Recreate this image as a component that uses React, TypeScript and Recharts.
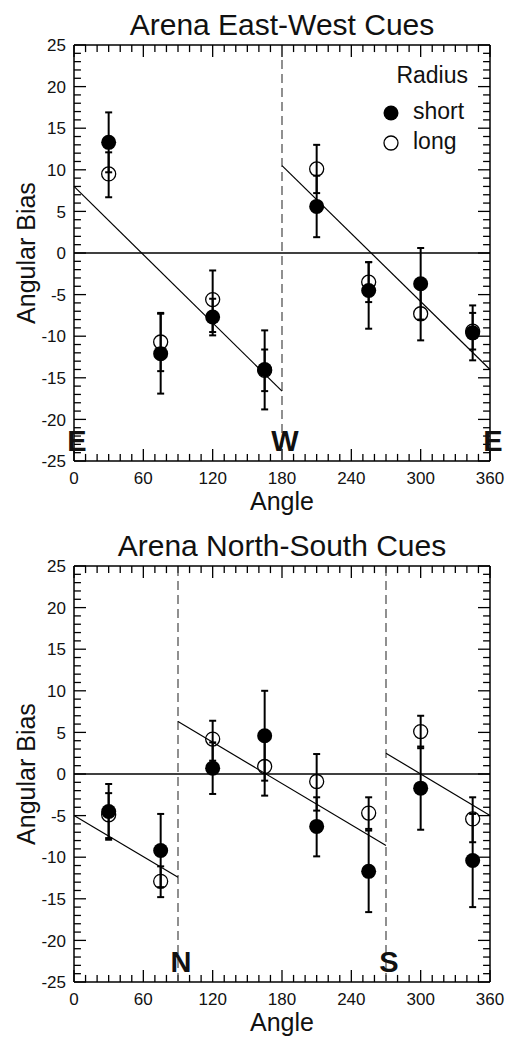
import React from "react"
import {
  ComposedChart,
  Scatter,
  XAxis,
  YAxis,
  ErrorBar,
  ReferenceLine,
  Legend,
  Label,
} from "recharts"

const FONT = '"Liberation Sans", Arial, Helvetica, sans-serif'

// angles where the animals were tested
const angles = [30, 75, 120, 165, 210, 255, 300, 345]

// East-West cues panel
const ewShortBias = [13.3, -12.1, -7.7, -14.0, 5.6, -4.5, -3.7, -9.6]
const ewShortErr = [[3.6, 3.6], [4.8, 4.8], [2.2, 2.2], [4.8, 4.7], [3.7, 3.7], [4.6, 3.4], [4.3, 4.3], [3.3, 3.3]]
const ewLongBias = [9.5, -10.7, -5.6, -14.1, 10.1, -3.5, -7.3, -9.4]
const ewLongErr = [[2.8, 2.6], [3.5, 3.5], [3.9, 3.5], [2.5, 2.5], [2.9, 2.9], [2.4, 2.4], [3.2, 3.2], [2.2, 2.2]]
const ewFitStarts = [{ x: 0, y: 8.0 }, { x: 180, y: 10.5 }]
const ewFitEnds = [{ x: 180, y: -16.6 }, { x: 360, y: -14.0 }]
const ewDividers = [180]
const ewCueAngles = [0, 180, 360]
const ewCueLabels = ["E", "W", "E"]

// North-South cues panel
const nsShortBias = [-4.5, -9.2, 0.7, 4.6, -6.3, -11.7, -1.7, -10.4]
const nsShortErr = [[3.4, 3.3], [4.4, 4.4], [3.1, 3.1], [5.4, 5.4], [3.6, 3.5], [4.9, 4.9], [5.0, 5.0], [5.6, 5.6]]
const nsLongBias = [-4.9, -12.9, 4.2, 0.9, -0.9, -4.7, 5.1, -5.4]
const nsLongErr = [[2.8, 2.6], [1.9, 1.8], [2.6, 2.2], [3.5, 3.5], [3.5, 3.3], [1.9, 1.9], [2.0, 1.9], [2.8, 2.6]]
const nsFitStarts = [{ x: 0, y: -5.0 }, { x: 90, y: 6.3 }, { x: 270, y: 2.5 }]
const nsFitEnds = [{ x: 90, y: -12.4 }, { x: 270, y: -8.6 }, { x: 360, y: -5.0 }]
const nsDividers = [90, 270]
const nsCueAngles = [90, 270]
const nsCueLabels = ["N", "S"]

// axis ticks
const X_MIN = 0
const X_MAX = 360
const Y_MIN = -25
const Y_MAX = 25
const xMajorTicks = [0, 60, 120, 180, 240, 300, 360]
const yMajorTicks = [-25, -20, -15, -10, -5, 0, 5, 10, 15, 20, 25]
const xTicks: number[] = []
for (let v = X_MIN; v <= X_MAX; v += 10) xTicks.push(v)
const yTicks: number[] = []
for (let v = Y_MIN; v <= Y_MAX; v += 1) yTicks.push(v)

// inward tick lengths, in data units (x ticks measured in bias, y ticks in degrees)
const X_TICK_MAJOR = 1.45
const X_TICK_MINOR = 0.85
const Y_TICK_MAJOR = 10.4
const Y_TICK_MINOR = 6.0
const TICK_STROKE = 1.3

const BottomLabel = (props: any) => {
  const { x, y, payload } = props
  return (
    <text x={x} y={y + 23} textAnchor="middle" fontSize={17} fontFamily={FONT} fill="#111">
      {payload.value}
    </text>
  )
}

const LeftLabel = (props: any) => {
  const { x, y, payload } = props
  return (
    <text x={x - 8} y={y} dy="0.36em" textAnchor="end" fontSize={17} fontFamily={FONT} fill="#111">
      {payload.value}
    </text>
  )
}

const FilledDot = (props: any) => <circle cx={props.cx} cy={props.cy} r={7.5} fill="#000" />
const OpenDot = (props: any) => (
  <circle cx={props.cx} cy={props.cy} r={7} fill="none" stroke="#000" strokeWidth={1.3} />
)
const CueLetter = (props: any) => (
  <text
    x={props.cx + 3}
    y={props.cy - 10}
    textAnchor="middle"
    fontSize={29}
    fontWeight="bold"
    fontFamily={FONT}
    fill="#111"
  >
    {props.payload.label}
  </text>
)

const RadiusLegend = () => (
  <svg width={110} height={100} style={{ display: "block" }}>
    <text x={88} y={23} textAnchor="end" fontSize={23} fontFamily={FONT} fill="#111">Radius</text>
    <circle cx={11} cy={53} r={7.5} fill="#000" />
    <text x={33} y={59} fontSize={23} fontFamily={FONT} fill="#111">short</text>
    <circle cx={11} cy={83} r={7} fill="none" stroke="#000" strokeWidth={1.3} />
    <text x={33} y={89} fontSize={23} fontFamily={FONT} fill="#111">long</text>
  </svg>
)

const toPoints = (bias: number[], err: number[][]) =>
  angles.map((a, i) => ({ angle: a, bias: bias[i], err: err[i] }))

// box frame + inward minor/major ticks on all four sides
function frameLines() {
  const out: React.ReactNode[] = []
  const seg = (key: string, a: { x: number; y: number }, b: { x: number; y: number }) =>
    out.push(<ReferenceLine key={key} segment={[a, b]} stroke="#000" strokeWidth={TICK_STROKE} />)
  xTicks.forEach((v) => {
    const len = xMajorTicks.includes(v) ? X_TICK_MAJOR : X_TICK_MINOR
    seg(`xb-${v}`, { x: v, y: Y_MIN }, { x: v, y: Y_MIN + len })
    seg(`xt-${v}`, { x: v, y: Y_MAX }, { x: v, y: Y_MAX - len })
  })
  yTicks.forEach((v) => {
    const len = yMajorTicks.includes(v) ? Y_TICK_MAJOR : Y_TICK_MINOR
    seg(`yl-${v}`, { x: X_MIN, y: v }, { x: X_MIN + len, y: v })
    seg(`yr-${v}`, { x: X_MAX, y: v }, { x: X_MAX - len, y: v })
  })
  out.push(<ReferenceLine key="fl" x={X_MIN} stroke="#000" strokeWidth={1.5} />)
  out.push(<ReferenceLine key="fr" x={X_MAX} stroke="#000" strokeWidth={1.5} />)
  out.push(<ReferenceLine key="fb" y={Y_MIN} stroke="#000" strokeWidth={1.5} />)
  out.push(<ReferenceLine key="ft" y={Y_MAX} stroke="#000" strokeWidth={1.5} />)
  return out
}

interface PanelProps {
  title: string
  shortBias: number[]
  shortErr: number[][]
  longBias: number[]
  longErr: number[][]
  fitStarts: Array<{ x: number; y: number }>
  fitEnds: Array<{ x: number; y: number }>
  dividers: number[]
  cueAngles: number[]
  cueLabels: string[]
  showLegend?: boolean
}

function Panel(p: PanelProps) {
  const shortData = toPoints(p.shortBias, p.shortErr)
  const longData = toPoints(p.longBias, p.longErr)
  const cueData = p.cueAngles.map((a, i) => ({ angle: a, bias: Y_MIN, label: p.cueLabels[i] }))

  return (
    <div style={{ position: "relative", width: 508, height: 520 }}>
      <div
        style={{
          position: "absolute",
          left: 74,
          top: 10,
          width: 416,
          textAlign: "center",
          fontFamily: FONT,
          fontSize: 30,
          lineHeight: "30px",
          color: "#111",
          whiteSpace: "nowrap",
        }}
      >
        {p.title}
      </div>
      <ComposedChart width={508} height={520} margin={{ top: 45, right: 18, bottom: 0, left: 0 }}>
        <XAxis
          dataKey="angle"
          type="number"
          domain={[X_MIN, X_MAX]}
          ticks={xMajorTicks}
          interval={0}
          tickSize={0}
          tickMargin={0}
          tickLine={false}
          axisLine={false}
          tick={BottomLabel}
          height={59}
        >
          <Label
            content={(lp: any) => (
              <text
                x={lp.viewBox.x + lp.viewBox.width / 2}
                y={lp.viewBox.y + 49}
                textAnchor="middle"
                fontSize={25}
                fontFamily={FONT}
                fill="#111"
              >
                Angle
              </text>
            )}
          />
        </XAxis>
        <YAxis
          dataKey="bias"
          type="number"
          domain={[Y_MIN, Y_MAX]}
          ticks={yMajorTicks}
          interval={0}
          tickSize={0}
          tickMargin={0}
          tickLine={false}
          axisLine={false}
          tick={LeftLabel}
          width={74}
        >
          <Label
            content={(lp: any) => {
              const cy = lp.viewBox.y + lp.viewBox.height / 2
              return (
                <text
                  x={35}
                  y={cy}
                  transform={`rotate(-90, 35, ${cy})`}
                  textAnchor="middle"
                  fontSize={25}
                  fontFamily={FONT}
                  fill="#111"
                >
                  Angular Bias
                </text>
              )
            }}
          />
        </YAxis>

        {frameLines()}

        <ReferenceLine y={0} stroke="#000" strokeWidth={1.3} />
        {p.dividers.map((d) => (
          <ReferenceLine key={`div-${d}`} x={d} stroke="#555" strokeWidth={1.3} strokeDasharray="9 5" />
        ))}
        {p.fitStarts.map((s, i) => (
          <ReferenceLine key={`fit-${i}`} segment={[s, p.fitEnds[i]]} stroke="#000" strokeWidth={1.2} />
        ))}

        <Scatter data={longData} shape={OpenDot} isAnimationActive={false}>
          <ErrorBar dataKey="err" direction="y" width={3.5} strokeWidth={2} stroke="#000" isAnimationActive={false} />
        </Scatter>
        <Scatter data={shortData} shape={FilledDot} isAnimationActive={false}>
          <ErrorBar dataKey="err" direction="y" width={3.5} strokeWidth={2} stroke="#000" isAnimationActive={false} />
        </Scatter>
        <Scatter data={cueData} shape={CueLetter} isAnimationActive={false} />

        {p.showLegend && (
          <Legend
            layout="horizontal"
            verticalAlign="middle"
            align="center"
            content={RadiusLegend}
            wrapperStyle={{ position: "absolute", top: 60, left: 380, width: 110 }}
          />
        )}
      </ComposedChart>
    </div>
  )
}

export default function App() {
  return (
    <div style={{ position: "relative", width: 508, height: 1039, background: "#fff" }}>
      <style>{"body{margin:0;background:#fff}"}</style>
      <div style={{ position: "absolute", left: 0, top: 0 }}>
        <Panel
          title="Arena East-West Cues"
          shortBias={ewShortBias}
          shortErr={ewShortErr}
          longBias={ewLongBias}
          longErr={ewLongErr}
          fitStarts={ewFitStarts}
          fitEnds={ewFitEnds}
          dividers={ewDividers}
          cueAngles={ewCueAngles}
          cueLabels={ewCueLabels}
          showLegend
        />
      </div>
      <div style={{ position: "absolute", left: 0, top: 521 }}>
        <Panel
          title="Arena North-South Cues"
          shortBias={nsShortBias}
          shortErr={nsShortErr}
          longBias={nsLongBias}
          longErr={nsLongErr}
          fitStarts={nsFitStarts}
          fitEnds={nsFitEnds}
          dividers={nsDividers}
          cueAngles={nsCueAngles}
          cueLabels={nsCueLabels}
        />
      </div>
    </div>
  )
}
